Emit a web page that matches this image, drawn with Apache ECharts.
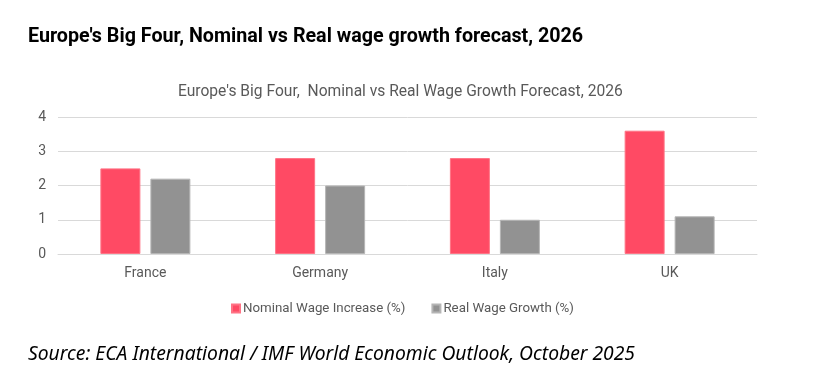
<!DOCTYPE html>
<html><head><meta charset="utf-8">
<script src="https://cdn.jsdelivr.net/npm/echarts@6/dist/echarts.min.js"></script>
<style>html,body{margin:0;padding:0;background:#fff}#c{width:822px;height:388px}</style>
</head><body><div id="c"></div>
<script>
const categories = ['France', 'Germany', 'Italy', 'UK'];
const nominalWage = [2.5, 2.8, 2.8, 3.6];
const realWage = [2.2, 2.0, 1.0, 1.1];
const seriesNames = ['Nominal Wage Increase (%)', 'Real Wage Growth (%)'];
const yTicks = [0, 1, 2, 3, 4];

const chart = echarts.init(document.getElementById('c'), null, {renderer: 'canvas'});
const narrow = '"Roboto", sans-serif';
chart.setOption({
  animation: false,
  backgroundColor: '#fff',
  graphic: [
    {type: 'text', left: 28, top: 27, style: {text: "Europe's Big Four, Nominal vs Real wage growth forecast, 2026", font: 'bold 19.7px ' + narrow, fill: '#000'}},
    {type: 'text', left: 28, top: 345, style: {text: 'Source: ECA International / IMF World Economic Outlook, October 2025', font: 'italic 19.3px "Noto Sans", sans-serif', fill: '#000'}}
  ],
  title: {
    text: "Europe's Big Four,  Nominal vs Real Wage Growth Forecast, 2026",
    left: 173, top: 79,
    textStyle: {fontFamily: narrow, fontSize: 15.6, fontWeight: 'normal', color: '#595959'}
  },
  legend: {
    data: seriesNames, left: 226, top: 297, itemWidth: 8, itemHeight: 8, itemGap: 26,
    icon: 'rect',
    textStyle: {fontFamily: narrow, fontSize: 13.3, color: '#595959', padding: [0,0,0,-2]}
  },
  grid: {left: 58, right: 65, top: 117, bottom: 134},
  xAxis: {
    type: 'category', data: categories,
    axisLine: {lineStyle: {color: '#d9d9d9'}}, axisTick: {show: false},
    axisLabel: {fontFamily: narrow, fontSize: 14, color: '#595959', margin: 12}
  },
  yAxis: {
    type: 'value', min: yTicks[0], max: yTicks[yTicks.length-1], interval: 1,
    axisLine: {show: false}, axisTick: {show: false},
    axisLabel: {fontFamily: narrow, fontSize: 14, color: '#595959', margin: 12},
    splitLine: {lineStyle: {color: '#d9d9d9'}}
  },
  series: [
    {name: seriesNames[0], type: 'bar', data: nominalWage, barWidth: 40, barGap: '25%',
     itemStyle: {color: '#ff4a64', borderColor: '#ff7385', borderWidth: 1}},
    {name: seriesNames[1], type: 'bar', data: realWage, barWidth: 40,
     itemStyle: {color: '#929292', borderColor: '#b5b5b5', borderWidth: 1}}
  ]
});
</script></body></html>
